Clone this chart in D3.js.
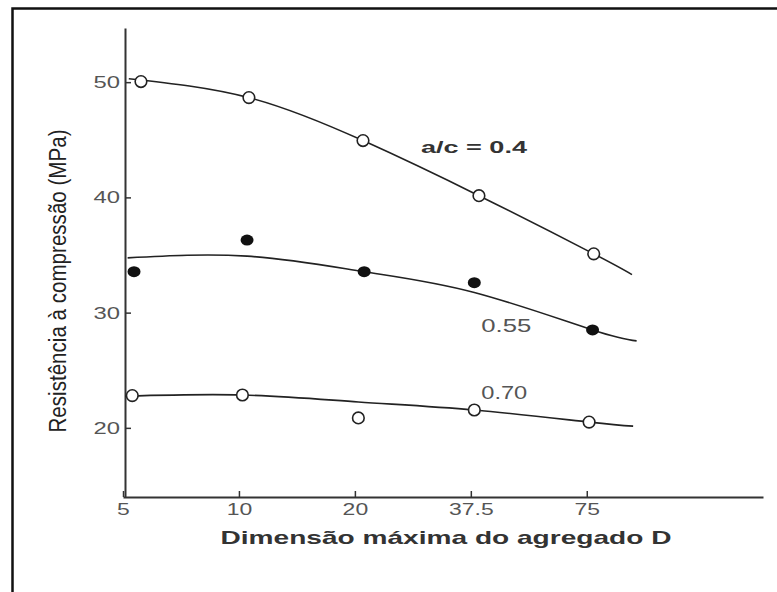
<!DOCTYPE html>
<html>
<head>
<meta charset="utf-8">
<script src="https://cdn.jsdelivr.net/npm/d3@7"></script>
<style>
    body { margin: 0; background: #fff; }
    svg { display: block; font-family: "Liberation Sans", Arial, sans-serif; }
</style>
</head>
<body>
<svg id="chart" width="777" height="592"></svg>
<script>
// x is measured in tick steps (0 = 5, 1 = 10, 2 = 20, 3 = 37.5, 4 = 75)
const xTickLabels = ['5', '10', '20', '37.5', '75']
const yTicks = [20, 30, 40, 50]
const seriesNames = ['a/c = 0.4', '0.55', '0.70']

// measured points
const points04 = [[0.155, 50.05], [1.086, 48.66], [2.07, 44.93], [3.07, 40.15], [4.06, 35.1]]
const points055 = [[0.095, 33.55], [1.07, 36.3], [2.08, 33.55], [3.03, 32.6], [4.05, 28.5]]
const points070 = [[0.08, 22.8], [1.03, 22.85], [2.03, 20.86], [3.03, 21.55], [4.02, 20.5]]

// fitted curves as drawn
const curve04 = [[0.05, 50.3], [1.086, 48.66], [2.07, 44.93], [3.07, 40.15], [4.06, 35.1], [4.39, 33.3]]
const curve055 = [[0.04, 34.75], [1.07, 34.9], [2.08, 33.55], [3.03, 31.75], [4.05, 28.5], [4.43, 27.55]]
const curve070 = [[0.02, 22.75], [1.03, 22.85], [2.03, 22.25], [3.03, 21.55], [4.02, 20.5], [4.4, 20.15]]

const svg = d3.select('#chart')

// frame of the scanned figure
svg.append('rect')
    .attr('x', 12.5)
    .attr('y', 8.5)
    .attr('width', 800)
    .attr('height', 700)
    .attr('fill', 'none')
    .attr('stroke', '#111')
    .attr('stroke-width', 2.5)

const x = d3.scaleLinear().domain([0, 5.52]).range([123, 763])
const y = d3.scaleLinear().domain([14, 54.7]).range([497, 28])

const xAxisPos = y(14)
const yAxisPos = 125

// stretch text to look like the wide lettering of the original
function widen(sel, factor) {
    sel.each(function () {
        let w = this.getComputedTextLength()
        d3.select(this)
            .attr('textLength', w * factor)
            .attr('lengthAdjust', 'spacingAndGlyphs')
    })
}

// x axis
const xAxis = svg.append('g')
    .attr('transform', 'translate(0,' + xAxisPos + ')')
    .call(d3.axisBottom(x)
        .tickValues([0, 1, 2, 3, 4])
        .tickFormat((d, i) => xTickLabels[i])
        .tickSizeInner(-6)
        .tickSizeOuter(0)
        .tickPadding(6))

xAxis.select('.domain').attr('stroke', '#333').attr('stroke-width', 2)
xAxis.selectAll('.tick line').attr('stroke', '#333').attr('stroke-width', 1.5)
xAxis.selectAll('.tick text')
    .attr('fill', '#555')
    .style('font-size', '17px')
    .call(widen, 1.35)

// y axis
const yAxis = svg.append('g')
    .attr('transform', 'translate(' + yAxisPos + ',0)')
    .call(d3.axisLeft(y)
        .tickValues(yTicks)
        .tickSizeInner(-6)
        .tickSizeOuter(0)
        .tickPadding(5))

yAxis.select('.domain').attr('stroke', '#333').attr('stroke-width', 2)
yAxis.selectAll('.tick line').attr('stroke', '#333').attr('stroke-width', 1.5)
yAxis.selectAll('.tick text')
    .attr('fill', '#555')
    .style('font-size', '17px')
    .call(widen, 1.4)

// axis titles
svg.append('text')
    .attr('x', 446)
    .attr('y', 544)
    .attr('text-anchor', 'middle')
    .attr('fill', '#333')
    .style('font-size', '19px')
    .style('font-weight', 'bold')
    .attr('textLength', 451)
    .attr('lengthAdjust', 'spacingAndGlyphs')
    .text('Dimensão máxima do agregado D')

svg.append('text')
    .attr('transform', 'translate(66,281) rotate(-90)')
    .attr('text-anchor', 'middle')
    .attr('fill', '#222')
    .style('font-size', '23px')
    .attr('textLength', 303)
    .attr('lengthAdjust', 'spacingAndGlyphs')
    .text('Resistência à compressão (MPa)')

// curves
const line = d3.line()
    .x(d => x(d[0]))
    .y(d => y(d[1]))
    .curve(d3.curveNatural)

for (let c of [curve04, curve055, curve070]) {
    svg.append('path')
        .datum(c)
        .attr('d', line)
        .attr('fill', 'none')
        .attr('stroke', '#222')
        .attr('stroke-width', 1.6)
}

// markers
function hollow(data) {
    svg.append('g')
        .selectAll('circle')
        .data(data)
        .join('circle')
        .attr('cx', d => x(d[0]))
        .attr('cy', d => y(d[1]))
        .attr('r', 5.8)
        .attr('fill', '#fff')
        .attr('stroke', '#222')
        .attr('stroke-width', 1.6)
}

hollow(points04)
hollow(points070)

svg.append('g')
    .selectAll('ellipse')
    .data(points055)
    .join('ellipse')
    .attr('cx', d => x(d[0]))
    .attr('cy', d => y(d[1]))
    .attr('rx', 6.5)
    .attr('ry', 5.5)
    .attr('fill', '#111')

// series labels
svg.append('text')
    .attr('x', x(2.57))
    .attr('y', y(43.88))
    .attr('fill', '#333')
    .style('font-size', '17px')
    .style('font-weight', 'bold')
    .attr('textLength', 106)
    .attr('lengthAdjust', 'spacingAndGlyphs')
    .text(seriesNames[0])

svg.append('text')
    .attr('x', x(3.09))
    .attr('y', y(28.33))
    .attr('fill', '#555')
    .style('font-size', '18px')
    .attr('textLength', 50)
    .attr('lengthAdjust', 'spacingAndGlyphs')
    .text(seriesNames[1])

svg.append('text')
    .attr('x', x(3.09))
    .attr('y', y(22.5))
    .attr('fill', '#555')
    .style('font-size', '18px')
    .attr('textLength', 46)
    .attr('lengthAdjust', 'spacingAndGlyphs')
    .text(seriesNames[2])
</script>
</body>
</html>
